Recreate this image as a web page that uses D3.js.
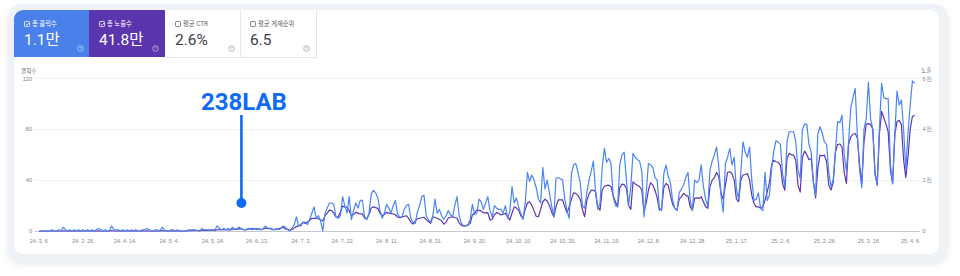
<!DOCTYPE html>
<html>
<head>
<meta charset="utf-8">
<script src="https://cdn.jsdelivr.net/npm/d3@7"></script>
<style>
  body { margin: 0; background: #fff; }
  svg { display: block; font-family: Roboto, "Noto Sans CJK KR", sans-serif; }
</style>
</head>
<body>
<svg id="chart" width="960" height="276"></svg>
<script>
// daily values from 2024-03-06, one row per week (Wed..Tue)
var startDate = "2024-03-06";

var clicks = [
  0,0,0,0,0,0,1,  0,0,1,0,3,1,0,  1,0,1,0,1,0,1,  0,1,0,1,0,1,2,
  1,0,1,0,0,4,1,  1,1,0,1,0,1,0,  1,0,1,0,0,1,1,  2,1,0,0,1,1,0,
  3,1,0,0,1,1,0,  1,0,0,0,0,1,1,  1,1,0,0,2,1,1,  1,1,1,1,4,2,1,
  2,1,2,1,3,1,2,  3,2,1,1,2,2,1,  2,1,2,1,2,4,2,  2,1,1,2,1,2,4,
  3,1,0,2,5,11,4,  4,7,7,5,9,14,19,  10,12,8,0,14,18,22,  22,21,11,10,12,27,20,
  14,27,9,16,22,18,24,  24,11,9,14,29,32,30,  26,16,10,14,21,18,14,  20,24,13,11,11,17,20,
  21,10,7,6,15,20,27,  28,12,9,7,12,25,14,  17,12,9,12,16,13,11,  20,27,12,6,4,4,5,
  9,21,13,14,25,23,17,  22,27,16,11,20,18,17,  17,14,20,10,15,35,22,  26,19,14,9,22,46,39,
  44,40,34,25,22,50,33,  40,30,20,11,41,42,41,  40,25,16,10,45,52,53,  46,38,20,18,30,40,47,
  55,30,17,22,50,65,54,  57,53,27,20,19,52,60,  62,40,20,35,61,58,56,  55,47,11,30,53,52,50,
  42,40,18,16,45,52,43,  38,24,18,16,30,33,36,  42,46,24,16,40,38,40,  52,35,25,19,48,55,60,
  66,50,28,15,53,58,65,  52,58,33,25,46,70,62,  58,66,40,24,25,30,18,  16,46,24,28,49,63,71,
  70,68,45,35,70,78,78,  78,70,48,41,80,84,84,  68,62,38,28,76,82,77,  70,68,46,35,40,62,86,
  85,91,60,47,70,97,105,  112,75,48,34,80,88,117,  88,80,44,37,80,116,105,  104,104,52,37,75,110,99,
  103,80,48,77,99,118,116
];

var impressions = [
  0,0,0,0,0,0,0,  0,0,0,0,10,0,0,  0,0,0,0,0,0,0,  0,0,0,0,0,0,10,
  0,0,0,0,0,20,0,  0,10,0,0,0,0,0,  0,0,0,0,0,10,0,  10,0,0,0,0,0,0,
  20,0,0,0,0,10,0,  0,0,0,0,0,10,10,  10,20,20,10,20,30,20,  30,40,30,20,50,60,40,
  60,50,40,40,70,80,60,  90,80,50,40,70,80,90,  80,90,60,50,80,110,90,  100,80,50,60,90,120,150,
  80,60,40,60,120,170,200,  260,340,300,350,420,500,500,  500,480,430,400,600,700,820,  800,700,550,560,750,980,950,
  930,800,600,650,730,700,670,  670,500,470,650,900,950,920,  890,700,600,650,730,700,680,  670,640,550,520,550,580,600,
  500,350,275,380,480,500,520,  540,450,370,300,560,530,500,  450,400,270,350,500,540,560,  530,500,320,220,200,200,230,
  300,630,700,820,810,790,720,  710,720,430,460,640,720,690,  630,660,690,560,430,700,950,  900,820,600,520,850,1100,1150,
  1010,800,580,560,850,1150,1250,  1180,1000,750,560,950,1220,1220,  1220,950,720,950,1250,1500,1480,  1400,1250,850,560,1200,1450,1600,
  1600,1540,950,820,1600,1760,1790,  1800,1740,1400,1150,950,1700,1840,  1820,1670,1000,850,1930,1850,1800,  1750,1600,760,1100,1600,1900,1800,
  1600,1300,820,880,1700,1870,1800,  1410,1050,900,820,1250,1350,1480,  1400,1370,950,820,1280,1300,1280,  1350,1150,950,890,1750,2000,2100,
  2300,2130,1500,1250,1800,2300,2330,  2260,2000,1250,1150,2000,2200,2220,  2260,2000,1400,1085,950,950,890,  950,1210,1540,1900,2590,2780,2720,
  2700,2590,1850,1600,2850,3050,3000,  2980,2780,1800,1530,2900,3140,3000,  2800,2850,1930,1300,2450,2980,2950,  2980,2720,1800,1610,1900,3100,3400,
  3420,3300,2300,1870,3400,3700,3800,  3830,3650,2600,1870,3500,4200,4220,  4180,4000,2330,1800,3800,4700,4450,  4200,3900,2400,1870,3800,4300,4350,
  4180,2800,2100,2900,4000,4500,4550
];

var tickDates = ["2024-03-06","2024-03-26","2024-04-14","2024-05-04","2024-05-24","2024-06-13",
  "2024-07-03","2024-07-22","2024-08-11","2024-08-31","2024-09-20","2024-10-10","2024-10-30",
  "2024-11-19","2024-12-08","2024-12-28","2025-01-17","2025-02-06","2025-02-26","2025-03-18","2025-04-06"];
var tickLabels = ["24. 3. 6.","24. 3. 26.","24. 4. 14.","24. 5. 4.","24. 5. 24.","24. 6. 13.",
  "24. 7. 3.","24. 7. 22.","24. 8. 11.","24. 8. 31.","24. 9. 20.","24. 10. 10.","24. 10. 30.",
  "24. 11. 19.","24. 12. 8.","24. 12. 28.","25. 1. 17.","25. 2. 6.","25. 2. 26.","25. 3. 18.","25. 4. 6."];

var leftTicks = [0, 40, 80, 120];
var rightTicks = [0, 2000, 4000, 6000];
var rightTickLabels = ["0", "2천", "4천", "6천"];

var cards = [
  {label: "총 클릭수", value: "1.1만", color: "#4a80ea", checked: true},
  {label: "총 노출수", value: "41.8만", color: "#5b35ae", checked: true},
  {label: "평균 CTR", value: "2.6%", color: null, checked: false},
  {label: "평균 게재순위", value: "6.5", color: null, checked: false}
];

var note = {text: "238LAB", date: "2024-06-06", top: 115, bottom: 203};

// build the daily rows
var parse = d3.utcParse("%Y-%m-%d");
var start = parse(startDate);
var data = clicks.map(function(c, i) {
  return {date: d3.utcDay.offset(start, i), clicks: c, impressions: impressions[i]};
});

var svg = d3.select("#chart");

// card shadow + backgrounds
var defs = svg.append("defs");
var f = defs.append("filter").attr("id", "shadow").attr("x", "-5%").attr("y", "-10%")
  .attr("width", "110%").attr("height", "130%");
f.append("feDropShadow").attr("dx", 0).attr("dy", 3).attr("stdDeviation", 3)
  .attr("flood-color", "#8090a8").attr("flood-opacity", 0.18);
defs.append("clipPath").attr("id", "inner")
  .append("rect").attr("x", 14).attr("y", 10).attr("width", 925).attr("height", 244).attr("rx", 9);

svg.append("rect").attr("x", 8).attr("y", 4).attr("width", 940).attr("height", 258)
  .attr("rx", 14).attr("fill", "#eef2f7").attr("filter", "url(#shadow)");
svg.append("rect").attr("x", 14).attr("y", 10).attr("width", 925).attr("height", 244)
  .attr("rx", 9).attr("fill", "#fff");

// metric cards
var cardW = [75, 76, 75, 76];
var cardX = [14, 89, 165, 240];
var cg = svg.append("g").attr("clip-path", "url(#inner)");
cards.forEach(function(c, i) {
  var x0 = cardX[i];
  var fg = c.color ? "#fff" : "#5f6368";
  cg.append("rect").attr("x", x0).attr("y", 10).attr("width", cardW[i]).attr("height", 47)
    .attr("fill", c.color || "#fff");
  cg.append("rect").attr("x", x0 + 10.5).attr("y", 21.5).attr("width", 5).attr("height", 5)
    .attr("rx", 0.8).attr("fill", "none").attr("stroke", fg).attr("stroke-width", 0.8);
  if (c.checked) {
    cg.append("path").attr("d", "M" + (x0 + 11.7) + ",24 l1.2,1.2 l2.2,-2.4")
      .attr("fill", "none").attr("stroke", fg).attr("stroke-width", 0.8);
  }
  cg.append("text").attr("x", x0 + 18).attr("y", 26.3).attr("font-size", 6.3)
    .attr("fill", fg).text(c.label);
  cg.append("text").attr("x", x0 + 10).attr("y", 45).attr("font-size", 15.5)
    .attr("fill", c.color ? "#fff" : "#3c4043").text(c.value);
  cg.append("circle").attr("cx", x0 + 66.5).attr("cy", 48.5).attr("r", 2.8)
    .attr("fill", "none").attr("stroke", c.color ? "rgba(255,255,255,0.8)" : "#80868b").attr("stroke-width", 0.6);
  cg.append("text").attr("x", x0 + 66.5).attr("y", 50).attr("font-size", 4).attr("text-anchor", "middle")
    .attr("fill", c.color ? "rgba(255,255,255,0.8)" : "#80868b").text("?");
});
cg.append("path").attr("d", "M165,57.5H316.5M240.5,10V57.5M316.5,10V57.5")
  .attr("stroke", "#e4e6ea").attr("stroke-width", 1).attr("fill", "none");

// scales
var x = d3.scaleUtc()
  .domain([start, data[data.length - 1].date])
  .range([39, 39 + 2.2 * (data.length - 1)]);
var yL = d3.scaleLinear().domain([0, 120]).range([231, 78.3]);
var yR = d3.scaleLinear().domain([0, 6000]).range([231, 78.3]);

// gridlines
svg.append("g").selectAll("line").data(leftTicks).enter().append("line")
  .attr("x1", 35).attr("x2", 920)
  .attr("y1", function(d) { return Math.round(yL(d)) + 0.5; })
  .attr("y2", function(d) { return Math.round(yL(d)) + 0.5; })
  .attr("stroke", function(d) { return d === 0 ? "#c4c7cc" : "#eef0f2"; })
  .attr("stroke-width", 1);

// left axis
var axL = svg.append("g").attr("transform", "translate(34,0)")
  .call(d3.axisLeft(yL).tickValues(leftTicks).tickSize(0).tickPadding(2));
axL.select(".domain").remove();
axL.selectAll("text").attr("font-size", 5.6).attr("fill", "#80868b").attr("font-family", null);
svg.append("text").attr("x", 21).attr("y", 73).attr("font-size", 5.6).attr("fill", "#5f6368").text("클릭수");

// right axis
var axR = svg.append("g").attr("transform", "translate(921,0)")
  .call(d3.axisRight(yR).tickValues(rightTicks).tickSize(0).tickPadding(1.5)
    .tickFormat(function(d, i) { return rightTickLabels[i]; }));
axR.select(".domain").remove();
axR.selectAll("text").attr("font-size", 5.6).attr("fill", "#80868b").attr("font-family", null);
svg.append("text").attr("x", 921).attr("y", 72).attr("font-size", 5.6).attr("fill", "#5f6368").text("노출");

// bottom axis
var axB = svg.append("g").attr("transform", "translate(0,233)")
  .call(d3.axisBottom(x).tickValues(tickDates.map(parse)).tickSize(0).tickPadding(6)
    .tickFormat(function(d, i) { return tickLabels[i]; }));
axB.select(".domain").remove();
axB.selectAll("text").attr("font-size", 5.4).attr("fill", "#80868b").attr("font-family", null);

// series lines
var lineImp = d3.line().x(function(d) { return x(d.date); }).y(function(d) { return yR(d.impressions); });
var lineClk = d3.line().x(function(d) { return x(d.date); }).y(function(d) { return yL(d.clicks); });

svg.append("path").datum(data).attr("d", lineImp)
  .attr("fill", "none").attr("stroke", "#5e35b1").attr("stroke-width", 1.2).attr("stroke-linejoin", "round");
svg.append("path").datum(data).attr("d", lineClk)
  .attr("fill", "none").attr("stroke", "#4a85f4").attr("stroke-width", 1.2).attr("stroke-linejoin", "round");

// annotation
var nx = x(parse(note.date));
svg.append("line").attr("x1", nx).attr("x2", nx).attr("y1", note.top).attr("y2", note.bottom)
  .attr("stroke", "#0f6cf2").attr("stroke-width", 2.6);
svg.append("circle").attr("cx", nx).attr("cy", note.bottom).attr("r", 5).attr("fill", "#0f6cf2");
svg.append("text").attr("x", nx + 2.5).attr("y", 110).attr("text-anchor", "middle")
  .attr("font-size", 24).attr("font-weight", 700).attr("fill", "#0f6cf2").text(note.text);
</script>
</body>
</html>
